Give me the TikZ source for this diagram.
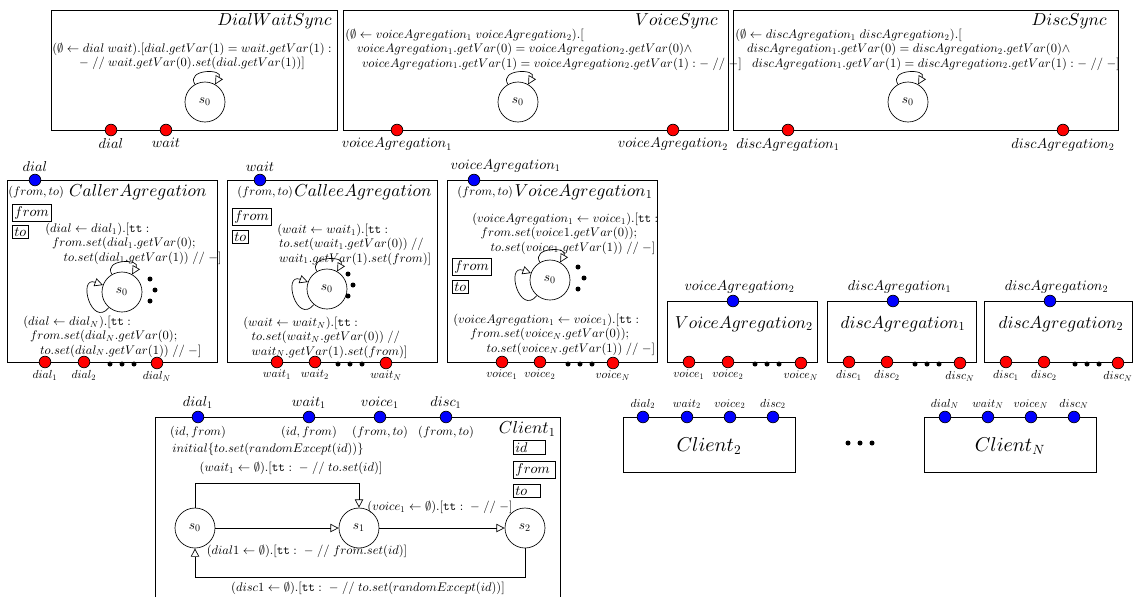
\documentclass[tikz,border=0pt]{standalone}
\DeclareFontShape{OML}{cmm}{m}{it}{<->cmmi10}{}
\DeclareFontShape{OMS}{cmsy}{m}{n}{<->cmsy10}{}
\DeclareFontShape{OT1}{cmr}{m}{n}{<->cmr10}{}
\DeclareFontShape{OT1}{cmtt}{m}{n}{<->cmtt10}{}
\usetikzlibrary{arrows.meta}
\begin{document}
\begin{tikzpicture}[x=0.6pt,y=-0.6pt,
  comp/.style={draw,line width=0.5pt},
  state/.style={draw,circle,minimum size=24pt,inner sep=0pt,font=\fontsize{8}{9}\selectfont},
  outport/.style={draw,circle,fill=red,minimum size=7pt,inner sep=0pt},
  inport/.style={draw,circle,fill=blue,minimum size=7pt,inner sep=0pt},
  var/.style={draw,inner sep=1.2pt,font=\fontsize{8.5}{9}\selectfont},
  trans/.style={-{Triangle[open,length=5pt,width=5pt]}},
  guard/.style={font=\fontsize{7.5}{5.4}\selectfont,align=left,inner sep=0pt},
  iface/.style={font=\fontsize{7.4}{8}\selectfont,inner sep=0pt},
  title/.style={font=\fontsize{10.4}{12}\selectfont,inner sep=0pt},
  dot/.style={circle,fill,minimum size=3pt,inner sep=0pt},
  toplab/.style={font=\fontsize{8.6}{9}\selectfont},
  every label/.style={font=\fontsize{7}{8}\selectfont,inner sep=1pt},
]
\useasboundingbox (0,0) rectangle (1135,597);

% synchronisers
\draw[comp] (51,10) rectangle (337,130);
\node[title,anchor=east] (dwsT) at (332,21) {$DialWaitSync$};
\node[guard,align=center] (dwsG) at (192,56) {$(\emptyset\leftarrow dial\;wait).[dial.getVar(1)=wait.getVar(1):$\\$-\;//\;wait.getVar(0).set(dial.getVar(1))]$};
\node[state] (dws0) at (205,102) {$s_0$};
\path[draw,trans] (dws0) to[out=120,in=60,looseness=2.3] (dws0);
\node[outport,label={[toplab]below:$dial$}] (dwsDial) at (111,130) {};
\node[outport,label={[toplab]below:$wait$}] (dwsWait) at (166,130) {};

\draw[comp] (343,10) rectangle (728,130);
\node[title,anchor=east] (vsT) at (718,21) {$VoiceSync$};
\node[guard,anchor=north west] (vsG) at (345,29) {$(\emptyset\leftarrow voiceAgregation_1\;voiceAgregation_2).[$\\\hspace*{7pt}$voiceAgregation_1.getVar(0)=voiceAgregation_2.getVar(0)\wedge$\\\hspace*{10pt}$voiceAgregation_1.getVar(1)=voiceAgregation_2.getVar(1):-\;//\;-]$};
\node[state] (vs0) at (518,102) {$s_0$};
\path[draw,trans] (vs0) to[out=120,in=60,looseness=2.3] (vs0);
\node[outport,label={[toplab]below:$voiceAgregation_1$}] (vsIn1) at (397,130) {};
\node[outport,label={[toplab]below:$voiceAgregation_2$}] (vsIn2) at (673,130) {};

\draw[comp] (733,10) rectangle (1118,130);
\node[title,anchor=east] (dsT) at (1107,21) {$DiscSync$};
\node[guard,anchor=north west] (dsG) at (735,29) {$(\emptyset\leftarrow discAgregation_1\;discAgregation_2).[$\\\hspace*{7pt}$discAgregation_1.getVar(0)=discAgregation_2.getVar(0)\wedge$\\\hspace*{10pt}$discAgregation_1.getVar(1)=discAgregation_2.getVar(1):-\;//\;-]$};
\node[state] (ds0) at (908,102) {$s_0$};
\path[draw,trans] (ds0) to[out=120,in=60,looseness=2.3] (ds0);
\node[outport,label={[toplab]below:$discAgregation_1$}] (dsIn1) at (788,130) {};
\node[outport,label={[toplab]below:$discAgregation_2$}] (dsIn2) at (1063,130) {};

% caller aggregation
\draw[comp] (7,180) rectangle (217,362);
\node[inport,label={[toplab]above:$dial$}] (caIn) at (35,180) {};
\node[iface,anchor=west] (caIf) at (8,192) {$(from,to)$};
\node[title,anchor=east] (caT) at (207,192) {$CallerAgregation$};
\node[var,anchor=north west] (caFrom) at (12,204) {$from$};
\node[var,anchor=north west] (caTo) at (12,225) {$to$};
\node[guard,anchor=north west] (caG1) at (45,223) {$(dial\leftarrow dial_1).[\mathtt{tt}:$\\\hspace*{4pt}$from.set(dial_1.getVar(0);$\\\hspace*{11pt}$to.set(dial_1.getVar(1))\;//\;-]$};
\node[state] (ca0) at (122,292) {$s_0$};
\path[draw,trans] (ca0) to[out=120,in=60,looseness=2.3] (ca0);
\path[draw,trans] (ca0) to[out=230,in=160,looseness=3] (ca0);
\node[dot] (caV1) at (150,279) {};
\node[dot] (caV2) at (155,290) {};
\node[dot] (caV3) at (150,301) {};
\node[guard,anchor=north west] (caG2) at (23,316) {$(dial\leftarrow dial_N).[\mathtt{tt}:$\\\hspace*{4pt}$from.set(dial_N.getVar(0);$\\\hspace*{10pt}$to.set(dial_N.getVar(1))\;//\;-]$};
\node[outport,label=below:$dial_1$] (caOut1) at (45,362) {};
\node[outport,label=below:$dial_2$] (caOut2) at (84,362) {};
\node[outport,label=below:$dial_N$] (caOutN) at (157,363) {};
\node[dot] (caB1) at (110,364) {};
\node[dot] (caB2) at (122,364) {};
\node[dot] (caB3) at (134,364) {};

% callee aggregation
\draw[comp] (227,180) rectangle (437,362);
\node[inport,label={[toplab]above:$wait$}] (ceIn) at (260,180) {};
\node[iface,anchor=west] (ceIf) at (237,192) {$(from,to)$};
\node[title,anchor=east] (ceT) at (432,192) {$CalleeAgregation$};
\node[var,anchor=north west] (ceFrom) at (232,208) {$from$};
\node[var,anchor=north west] (ceTo) at (232,230) {$to$};
\node[guard,anchor=north west] (ceG1) at (277,224) {$(wait\leftarrow wait_1).[\mathtt{tt}:$\\\hspace*{1pt}$to.set(wait_1.getVar(0))\;//$\\\hspace*{1pt}$wait_1.getVar(1).set(from)]$};
\node[state] (ce0) at (327,289) {$s_0$};
\path[draw,trans] (ce0) to[out=120,in=60,looseness=2.3] (ce0);
\path[draw,trans] (ce0) to[out=230,in=160,looseness=3] (ce0);
\node[dot] (ceV1) at (348,274) {};
\node[dot] (ceV2) at (353,285) {};
\node[dot] (ceV3) at (348,296) {};
\node[guard,anchor=north west] (ceG2) at (243,317) {$(wait\leftarrow wait_N).[\mathtt{tt}:$\\\hspace*{5pt}$to.set(wait_N.getVar(0))\;//$\\\hspace*{5pt}$wait_N.getVar(1).set(from)]$};
\node[outport,label=below:$wait_1$] (ceOut1) at (277,362) {};
\node[outport,label=below:$wait_2$] (ceOut2) at (315,362) {};
\node[outport,label=below:$wait_N$] (ceOutN) at (386,363) {};
\node[dot] (ceB1) at (338,364) {};
\node[dot] (ceB2) at (350,364) {};
\node[dot] (ceB3) at (362,364) {};

% voice aggregations
\draw[comp] (447,180) rectangle (657,362);
\node[inport,label={[toplab,xshift=19pt]above:$voiceAgregation_1$}] (va1In) at (474,180) {};
\node[iface,anchor=west] (va1If) at (457,192) {$(from,to)$};
\node[title,anchor=east] (va1T) at (653,192) {$VoiceAgregation_1$};
\node[guard,anchor=north west] (va1G1) at (472,213) {$(voiceAgregation_1\leftarrow voice_1).[\mathtt{tt}:$\\\hspace*{5pt}$from.set(voice1.getVar(0));$\\\hspace*{11pt}$to.set(voice_1.getVar(1))\;//\;-]$};
\node[var,anchor=north west] (va1From) at (452,258) {$from$};
\node[var,anchor=north west] (va1To) at (452,280) {$to$};
\node[state] (va10) at (550,280) {$s_0$};
\path[draw,trans] (va10) to[out=120,in=60,looseness=2.3] (va10);
\path[draw,trans] (va10) to[out=230,in=160,looseness=3] (va10);
\node[dot] (va1V1) at (578,267) {};
\node[dot] (va1V2) at (584,278) {};
\node[dot] (va1V3) at (578,289) {};
\node[guard,anchor=north west] (va1G2) at (453,314) {$(voiceAgregation_1\leftarrow voice_1).[\mathtt{tt}:$\\\hspace*{10pt}$from.set(voice_N.getVar(0));$\\\hspace*{20pt}$to.set(voice_N.getVar(1))\;//\;-]$};
\node[outport,label=below:$voice_1$] (va1Out1) at (502,362) {};
\node[outport,label=below:$voice_2$] (va1Out2) at (540,362) {};
\node[outport,label=below:$voice_N$] (va1OutN) at (613,363) {};
\node[dot] (va1B1) at (568,364) {};
\node[dot] (va1B2) at (580,364) {};
\node[dot] (va1B3) at (592,364) {};

\draw[comp] (667,301) rectangle (817,362);
\node[inport,label={[toplab,xshift=4pt]above:$voiceAgregation_2$}] (va2In) at (733,301) {};
\node[title] (va2T) at (744,324) {$VoiceAgregation_2$};
\node[outport,label=below:$voice_1$] (va2Out1) at (689,362) {};
\node[outport,label=below:$voice_2$] (va2Out2) at (728,362) {};
\node[outport,label=below:$voice_N$] (va2OutN) at (801,363) {};
\node[dot] (va2B1) at (755,364) {};
\node[dot] (va2B2) at (767,364) {};
\node[dot] (va2B3) at (779,364) {};

% disc aggregations
\draw[comp] (827,301) rectangle (976,362);
\node[inport,label={[toplab,xshift=4pt]above:$discAgregation_1$}] (da1In) at (893,301) {};
\node[title] (da1T) at (903,324) {$discAgregation_1$};
\node[outport,label=below:$disc_1$] (da1Out1) at (849,362) {};
\node[outport,label=below:$disc_2$] (da1Out2) at (887,362) {};
\node[outport,label=below:$disc_N$] (da1OutN) at (960,363) {};
\node[dot] (da1B1) at (915,364) {};
\node[dot] (da1B2) at (927,364) {};
\node[dot] (da1B3) at (939,364) {};

\draw[comp] (984,301) rectangle (1132,362);
\node[inport,label={[toplab,xshift=4pt]above:$discAgregation_2$}] (da2In) at (1050,301) {};
\node[title] (da2T) at (1061,324) {$discAgregation_2$};
\node[outport,label=below:$disc_1$] (da2Out1) at (1006,362) {};
\node[outport,label=below:$disc_2$] (da2Out2) at (1044,362) {};
\node[outport,label=below:$disc_N$] (da2OutN) at (1118,363) {};
\node[dot] (da2B1) at (1075,364) {};
\node[dot] (da2B2) at (1087,364) {};
\node[dot] (da2B3) at (1099,364) {};

% client 1
\draw[comp] (155,597) -- (155,417) -- (560,417) -- (560,597);
\node[inport,label={[toplab]above:$dial_1$},label={[iface,label distance=1.5pt]below:$(id,from)$}] (c1Dial) at (198,417) {};
\node[inport,label={[toplab]above:$wait_1$},label={[iface,label distance=1.5pt]below:$(id,from)$}] (c1Wait) at (309,417) {};
\node[inport,label={[toplab]above:$voice_1$},label={[iface,label distance=1.5pt]below:$(from,to)$}] (c1Voice) at (380,417) {};
\node[inport,label={[toplab]above:$disc_1$},label={[iface,label distance=1.5pt]below:$(from,to)$}] (c1Disc) at (446,417) {};
\node[title,anchor=east] (c1T) at (556,429) {$Client_1$};
\node[guard,anchor=west] (c1Init) at (172,449) {$initial\{to.set(randomExcept(id))\}$};
\node[var,anchor=north west,text width=17pt] (c1Id) at (513,440) {$id$};
\node[var,anchor=north west,text width=23pt] (c1From) at (513,461) {$from$};
\node[var,anchor=north west,text width=14pt] (c1To) at (513,484) {$to$};
\node[state] (c0) at (195,528) {$s_0$};
\node[state] (c1) at (359,528) {$s_1$};
\node[state] (c2) at (525,528) {$s_2$};
\path[draw,trans] (c0) -- (c1);
\path[draw,trans] (c1) -- (c2);
\path[draw,trans] (c0.north) |- (270,483) -| (c1.north);
\path[draw,trans] (c2.south) |- (360,577) -| (c0.south);
\node[guard] (c1LWait) at (291,468) {$(wait_1\leftarrow\emptyset).[\mathtt{tt}:\;-\;//\;to.set(id)]$};
\node[guard] (c1LVoice) at (440,507) {$(voice_1\leftarrow\emptyset).[\mathtt{tt}:\;-\;//\;-]$};
\node[guard] (c1LDial) at (307,551) {$(dial1\leftarrow\emptyset).[\mathtt{tt}:\;-\;//\;from.set(id)]$};
\node[guard] (c1LDisc) at (368,588) {$(disc1\leftarrow\emptyset).[\mathtt{tt}:\;-\;//\;to.set(randomExcept(id))]$};

% clients 2 .. N
\draw[comp] (623,417) rectangle (795,472);
\node[title,font=\fontsize{12}{14}\selectfont] (c2T) at (709,446) {$Client_2$};
\node[inport,label=above:$dial_2$] (c2Dial) at (643,417) {};
\node[inport,label=above:$wait_2$] (c2Wait) at (687,417) {};
\node[inport,label=above:$voice_2$] (c2Voice) at (730,417) {};
\node[inport,label=above:$disc_2$] (c2Disc) at (773,417) {};

\node[dot] (cDot1) at (848,443) {};
\node[dot] (cDot2) at (860,443) {};
\node[dot] (cDot3) at (872,443) {};

\draw[comp] (924,417) rectangle (1096,472);
\node[title,font=\fontsize{12}{14}\selectfont] (cNT) at (1010,446) {$Client_N$};
\node[inport,label=above:$dial_N$] (cNDial) at (945,417) {};
\node[inport,label=above:$wait_N$] (cNWait) at (988,417) {};
\node[inport,label=above:$voice_N$] (cNVoice) at (1031,417) {};
\node[inport,label=above:$disc_N$] (cNDisc) at (1074,417) {};
\end{tikzpicture}
\end{document}
